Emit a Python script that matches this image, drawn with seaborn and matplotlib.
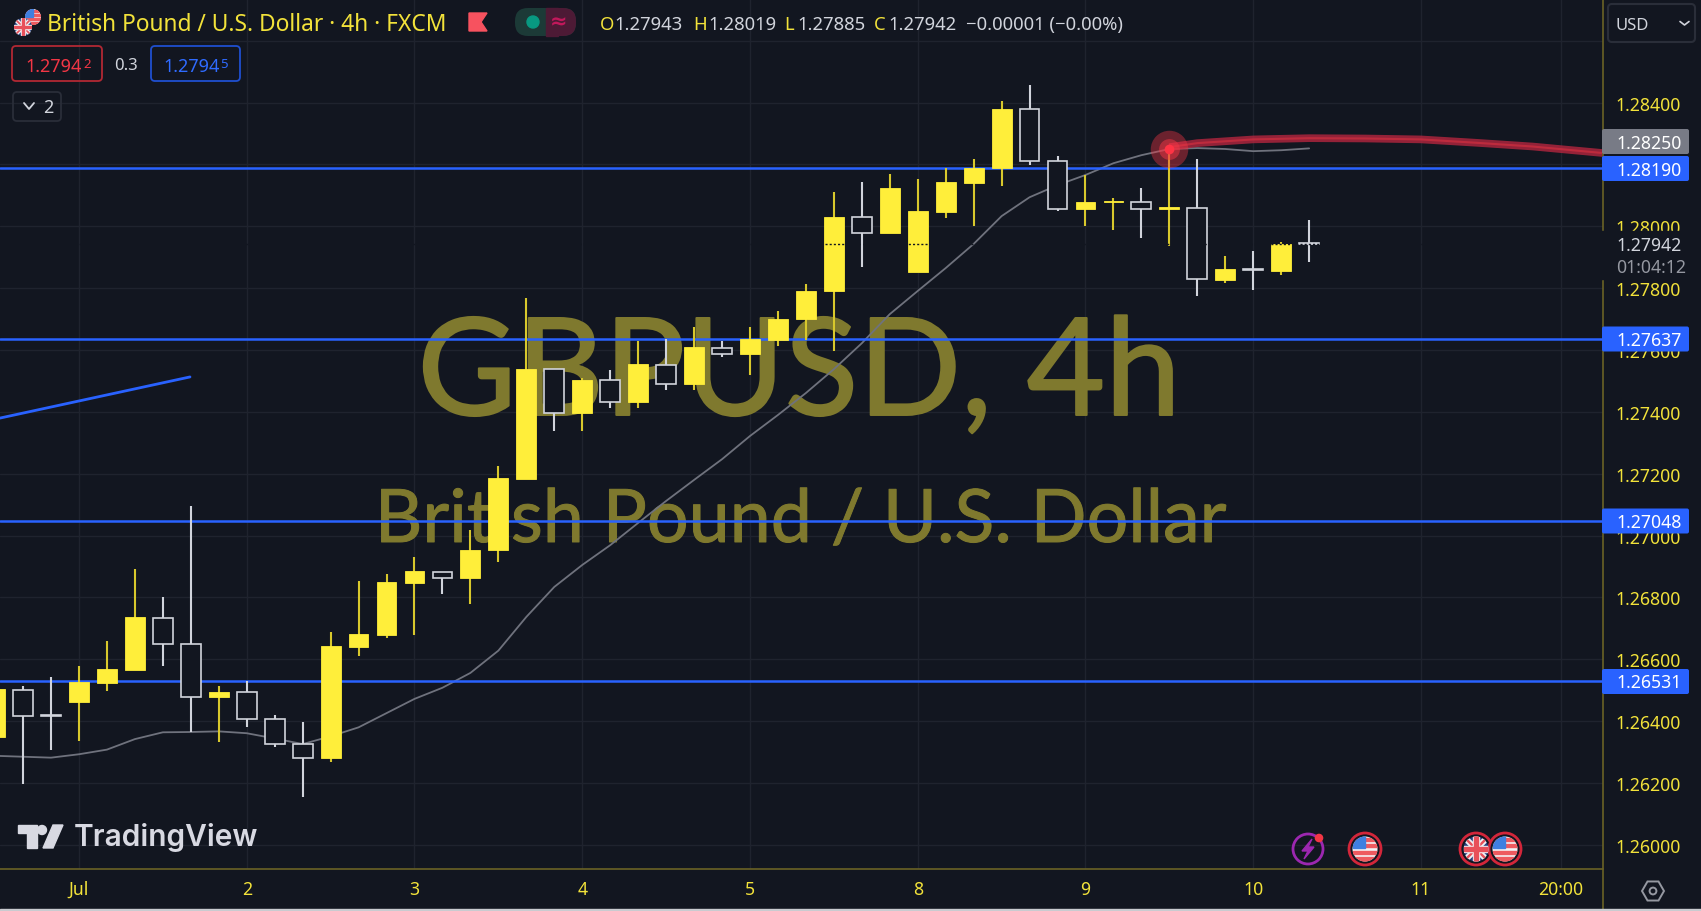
import matplotlib
matplotlib.use("Agg")
import matplotlib.patheffects as pe
import matplotlib.pyplot as plt
from matplotlib.patches import Circle, FancyBboxPatch, Polygon, Rectangle, RegularPolygon
import numpy as np
import pandas as pd
import seaborn as sns

# 4h bars, first one sits three bars before Jul 1 00:00
opens = [1.26348, 1.26502, 1.26417, 1.26461, 1.26523, 1.26566, 1.26734, 1.26649, 1.26477, 1.26493, 1.26408, 1.26326,
         1.26282, 1.26640, 1.26678, 1.26846, 1.26882, 1.26862, 1.26953, 1.27183, 1.27538, 1.27396, 1.27502, 1.27432,
         1.27552, 1.27489, 1.27607, 1.27587, 1.27634, 1.27700, 1.27790, 1.28029, 1.27980, 1.27851, 1.28045, 1.28139,
         1.28187, 1.28379, 1.28212, 1.28055, 1.28079, 1.28078, 1.28057, 1.28059, 1.27828, 1.27859, 1.27855, 1.27943]
closes = [1.26504, 1.26416, 1.26416, 1.26526, 1.26569, 1.26736, 1.26649, 1.26477, 1.26495, 1.26408, 1.26326, 1.26282,
          1.26642, 1.26682, 1.26849, 1.26884, 1.26863, 1.26954, 1.27185, 1.27538, 1.27396, 1.27503, 1.27432, 1.27554,
          1.27490, 1.27609, 1.27586, 1.27635, 1.27701, 1.27792, 1.28029, 1.27980, 1.28123, 1.28048, 1.28142, 1.28188,
          1.28380, 1.28211, 1.28055, 1.28079, 1.28079, 1.28055, 1.28057, 1.27829, 1.27862, 1.27858, 1.27942, 1.27942]
highs = [1.26504, 1.26515, 1.26542, 1.26577, 1.26658, 1.26892, 1.26802, 1.27095, 1.26515, 1.26529, 1.26421, 1.26398,
         1.26689, 1.26853, 1.26877, 1.26932, 1.26882, 1.27017, 1.27224, 1.27768, 1.27538, 1.27510, 1.27535, 1.27628,
         1.27635, 1.27675, 1.27628, 1.27675, 1.27725, 1.27813, 1.28112, 1.28142, 1.28170, 1.28154, 1.28188, 1.28217,
         1.28404, 1.28458, 1.28228, 1.28166, 1.28092, 1.28124, 1.28250, 1.28217, 1.27905, 1.27920, 1.27948, 1.28019]
lows = [1.26326, 1.26197, 1.26308, 1.26335, 1.26498, 1.26566, 1.26577, 1.26364, 1.26332, 1.26382, 1.26315, 1.26154,
        1.26269, 1.26612, 1.26670, 1.26678, 1.26810, 1.26779, 1.26915, 1.27183, 1.27337, 1.27337, 1.27411, 1.27411,
        1.27470, 1.27470, 1.27578, 1.27520, 1.27614, 1.27633, 1.27598, 1.27870, 1.27980, 1.27851, 1.28027, 1.28000,
        1.28131, 1.28198, 1.28048, 1.28000, 1.27987, 1.27961, 1.27937, 1.27775, 1.27816, 1.27793, 1.27843, 1.27885]
ma_values = [1.26288, 1.26285, 1.26282, 1.26293, 1.26308, 1.26342, 1.26364, 1.26365, 1.26367, 1.26361, 1.26344, 1.26326,
             1.26351, 1.26380, 1.26426, 1.26472, 1.26508, 1.26556, 1.26628, 1.26737, 1.26834, 1.26905, 1.26969, 1.27041,
             1.27112, 1.27180, 1.27247, 1.27322, 1.27390, 1.27461, 1.27538, 1.27622, 1.27716, 1.27791, 1.27865, 1.27943,
             1.28033, 1.28094, 1.28133, 1.28166, 1.28204, 1.28230, 1.28250, 1.28253, 1.28250, 1.28243, 1.28246, 1.28252]

level_prices = [1.28190, 1.27637, 1.27048, 1.26531]
level_labels = ["1.28190", "1.27637", "1.27048", "1.26531"]
trend_bars = [-2.825, 3.97]
trend_prices = [1.27380, 1.27513]
red_bars = [39, 40, 42, 44, 46, 48, 50, 52, 54.5]
red_prices = [1.28256, 1.28269, 1.28281, 1.28285, 1.28284, 1.28281, 1.28270, 1.28258, 1.28237]

price_ticks = [1.26, 1.262, 1.264, 1.266, 1.268, 1.27, 1.272, 1.274, 1.276, 1.278, 1.28, 1.282, 1.284]
price_tick_labels = ["1.26000", "1.26200", "1.26400", "1.26600", "1.26800", "1.27000", "1.27200", "1.27400",
                     "1.27600", "1.27800", "1.28000", "", "1.28400"]
time_ticks = [0, 6, 12, 18, 24, 30, 36, 42, 48, 53]
time_labels = ["Jul", "2", "3", "4", "5", "8", "9", "10", "11", "20:00"]

BG = "#121620"
GRID = "#1f232e"
YELLOW = "#ffee3a"
WICK_YELLOW = "#d8c82c"
WHITE = "#d1d4dc"
BLUE = "#2962ff"
OLIVE = "#6a6226"
TEXT_YELLOW = "#f2e23a"
WATERMARK = "#7f792e"
W, H = 1701, 912
AXIS_X, AXIS_Y = 1602.7, 870

sns.set_theme(style="dark", rc={"axes.facecolor": BG, "figure.facecolor": BG})
plt.rcParams["font.family"] = ["Noto Sans", "DejaVu Sans"]

bars = pd.DataFrame({"open": opens, "high": highs, "low": lows, "close": closes, "ma": ma_values})
bars["bar"] = np.arange(len(bars)) - 3
bars["up"] = bars["close"] >= bars["open"]

fig = plt.figure(figsize=(W / 100, H / 100), dpi=100)
ax = fig.add_axes([0, 1 - AXIS_Y / H, AXIS_X / W, AXIS_Y / H])
ui = fig.add_axes([0, 0, 1, 1], zorder=10)
ui.set_xlim(0, W)
ui.set_ylim(H, 0)
ui.axis("off")
ui.patch.set_alpha(0)

ax.set_xlim(-2.825, 54.5)
ax.set_ylim(1.25922, 1.28735)
ax.yaxis.tick_right()
ax.set_yticks(price_ticks, price_tick_labels)
ax.set_xticks(time_ticks, time_labels)
ax.tick_params(axis="y", length=0, pad=9.5, labelcolor=TEXT_YELLOW, labelsize=12.7)
ax.tick_params(axis="x", length=0, pad=8, labelcolor=TEXT_YELLOW, labelsize=12.7)
for label in ax.get_yticklabels() + ax.get_xticklabels():
    label.set_fontweight("semibold")
ax.grid(True, color=GRID, linewidth=1)
ax.axhline(1.286, color=GRID, linewidth=1, zorder=0.8)
ax.set_axisbelow(True)
for side in ax.spines:
    ax.spines[side].set_visible(False)

# watermark goes under everything
ax.text(799, 416, "GBPUSD, 4h", transform=ui.transData, ha="center", va="baseline", fontsize=97.5,
        color=WATERMARK, zorder=1, clip_on=False, family="Lato",
        path_effects=[pe.withStroke(linewidth=1.4, foreground=WATERMARK)])
ax.text(801, 543, "British Pound / U.S. Dollar", transform=ui.transData, ha="center", va="baseline", fontsize=53,
        color=WATERMARK, zorder=1, clip_on=False, family="Lato",
        path_effects=[pe.withStroke(linewidth=0.7, foreground=WATERMARK)])

sns.lineplot(data=bars, x="bar", y="ma", ax=ax, color="#6f727d", linewidth=1.3, zorder=2)
sns.lineplot(x=trend_bars, y=trend_prices, ax=ax, color=BLUE, linewidth=2, zorder=2)
for price in level_prices:
    ax.axhline(price, color=BLUE, linewidth=1.8, zorder=2.5)
ax.set_xlabel("")
ax.set_ylabel("")

for is_up, wick_color, face, edge, edge_width in [(True, WICK_YELLOW, YELLOW, YELLOW, 0.6), (False, WHITE, BG, WHITE, 1.2)]:
    group = bars[bars["up"] == is_up]
    # doji bodies still need some thickness on screen
    body = (group["close"] - group["open"]).abs().clip(lower=0.00004)
    ax.vlines(group["bar"], group["low"], group["high"], color=wick_color, linewidth=1.5, zorder=3)
    ax.bar(group["bar"], body, bottom=group[["open", "close"]].min(axis=1),
           width=0.71, color=face, edgecolor=edge, linewidth=edge_width, zorder=4)

# last price line, only shows on top of the bodies
ax.axhline(closes[-1], color=BG, linewidth=1, linestyle=(0, (1.5, 1.5)), zorder=5)

# red projection and alert dot
ax.plot(red_bars, red_prices, color="#b5263f", linewidth=5.5, alpha=0.8, zorder=6, solid_capstyle="butt")
ax.plot(red_bars, red_prices, color="#f23645", linewidth=1.5, alpha=0.45, zorder=6.1)
ax.plot(39, 1.28250, "o", color="#f23645", alpha=0.4, markersize=27, markeredgewidth=0, zorder=7)
ax.plot(39, 1.28250, "o", color="#f23645", alpha=0.5, markersize=15, markeredgewidth=0, zorder=7)
ax.plot(39, 1.28250, "o", color="#ff3344", markersize=7, markeredgewidth=0, zorder=7)


def text(x, y, s, color=WHITE, size=12, ha="left", **kw):
    return ui.text(x, y, s, color=color, fontsize=size, ha=ha, va="center", **kw)


def round_box(x0, y0, x1, y1, face="none", edge="none", lw=1.3, rad=4, z=1):
    box = FancyBboxPatch((x0 + rad, y0 + rad), x1 - x0 - 2 * rad, y1 - y0 - 2 * rad,
                         boxstyle=f"round,pad={rad},rounding_size={rad}", facecolor=face, edgecolor=edge,
                         linewidth=lw, zorder=z)
    ui.add_patch(box)


def clipped(patch, clip):
    ui.add_patch(patch)
    patch.set_clip_path(clip)


def flag_us(cx, cy, r, z=3):
    base = Circle((cx, cy), r, facecolor="#f4f4f6", edgecolor="none", zorder=z)
    ui.add_patch(base)
    for k in (-0.75, -0.25, 0.3, 0.8):
        clipped(Rectangle((cx - r, cy + k * r - r * 0.13), 2 * r, r * 0.26, color="#ee5a5f", zorder=z + 0.1), base)
    clipped(Rectangle((cx - r, cy - r), r, r * 0.95, color="#3f7fe0", zorder=z + 0.2), base)


def flag_uk(cx, cy, r, z=3):
    base = Circle((cx, cy), r, facecolor="#26407f", edgecolor="none", zorder=z)
    ui.add_patch(base)
    for sign, width, col in [(1, 3.5, "#f1f1f4"), (-1, 3.5, "#f1f1f4"), (1, 1.4, "#e8505a"), (-1, 1.4, "#e8505a")]:
        line, = ui.plot([cx - r, cx + r], [cy - sign * r, cy + sign * r], color=col, lw=width * r / 10, zorder=z + 0.1)
        line.set_clip_path(base)
    clipped(Rectangle((cx - r, cy - r * 0.26), 2 * r, r * 0.52, color="#f1f1f4", zorder=z + 0.2), base)
    clipped(Rectangle((cx - r * 0.26, cy - r), r * 0.52, 2 * r, color="#f1f1f4", zorder=z + 0.2), base)
    clipped(Rectangle((cx - r, cy - r * 0.13), 2 * r, r * 0.26, color="#e8505a", zorder=z + 0.3), base)
    clipped(Rectangle((cx - r * 0.13, cy - r), r * 0.26, 2 * r, color="#e8505a", zorder=z + 0.3), base)


# legend row
flag_us(33, 18, 8, z=3)
flag_uk(23, 28, 9, z=4)
text(47, 25, "British Pound / U.S. Dollar · 4h · FXCM", color=TEXT_YELLOW, size=16.4, fontweight="medium")
ui.add_patch(Polygon([(469, 14), (487, 14), (481, 23), (487, 32), (469, 32)], color="#f7525f", zorder=2))
round_box(515, 9, 576, 37, face="#1c3a37", rad=13)
round_box(546, 9, 576, 37, face="#4d1a35", rad=13, z=1.1)
ui.add_patch(Rectangle((546, 9), 12, 28, color="#4d1a35", zorder=1.2))
ui.add_patch(Circle((533, 23), 6, color="#089981", zorder=2))
text(559, 23, "≈", color="#c2185b", size=15, ha="center", fontweight="bold", zorder=2)
for x, s, col in [(600, "O", TEXT_YELLOW), (614.5, "1.27943", WHITE), (693, "H", TEXT_YELLOW), (708, "1.28019", WHITE),
                  (784.5, "L", TEXT_YELLOW), (797, "1.27885", WHITE), (873.6, "C", TEXT_YELLOW), (888, "1.27942", WHITE),
                  (965.5, "−0.00001 (−0.00%)", WHITE)]:
    text(x, 25, s, color=col, size=13.3)

# bid / ask
round_box(12, 47, 102, 82, edge="#b22833")
text(25, 67, "1.2794", color="#f23645", size=13)
text(83, 64, "2", color="#f23645", size=9.5)
text(126, 66, "0.3", size=12, ha="center")
round_box(151, 47, 240, 82, edge="#1f4fd0")
text(163, 67, "1.2794", color="#2f6bff", size=13)
text(220, 64, "5", color="#2f6bff", size=9.5)
round_box(13, 93, 61, 122, edge="#2a2e39")
ui.plot([24, 29, 34], [104, 110, 104], color=WHITE, lw=1.3, zorder=2)
text(48, 108, "2", size=13, ha="center")

# price scale chrome
ui.plot([AXIS_X, AXIS_X], [0, 910], color=OLIVE, lw=1.2, zorder=1)
ui.plot([0, AXIS_X], [AXIS_Y, AXIS_Y], color=OLIVE, lw=1.2, zorder=1)
ui.add_patch(Rectangle((0, 910), W, 2, color="#c9cbd0", zorder=1))
round_box(1608, 5, 1695, 43, edge="#2a2e39", lw=1.5)
text(1615, 25.5, "USD", size=12)
ui.plot([1680, 1684.5, 1689], [22.5, 26, 22.5], color=WHITE, lw=1.2, zorder=2)

ui.add_patch(Rectangle((1596, 232), 105, 47.5, color=BG, zorder=1.5))
text(1649, 246, "1.27942", size=12.7, ha="center", zorder=2)
text(1651, 268, "01:04:12", color="#9598a1", size=12.7, ha="center", zorder=2)

round_box(1602, 130, 1689, 155, face="#787b86", rad=2, z=2)
text(1649, 144, "1.28250", color="white", size=12.7, ha="center", zorder=3)
box_tops = [157, 327.5, 509.5, 670]
for top, label in zip(box_tops, level_labels):
    round_box(1602, top, 1689, top + 25, face=BLUE, rad=2, z=2)
    text(1649, top + 13.5, label, color="white", size=12.7, ha="center", zorder=3)

ui.add_patch(RegularPolygon((1653, 892), 6, radius=11, orientation=np.pi / 6, facecolor="none", edgecolor="#9598a1", lw=1.4))
ui.add_patch(Circle((1653, 892), 3.4, facecolor="none", edgecolor="#9598a1", lw=1.4))

# event icons along the bottom
ui.add_patch(Circle((1308, 850), 15, facecolor="none", edgecolor="#9c27b0", lw=2))
ui.add_patch(Polygon([(1312, 840), (1302, 852), (1308, 852), (1304, 860), (1314, 848), (1308, 848)], color="#9c27b0"))
ui.add_patch(Circle((1319, 839), 3.6, color="#f23645", zorder=3))
for cx, maker in [(1365, flag_us), (1476, flag_uk), (1505, flag_us)]:
    ui.add_patch(Circle((cx, 850), 16, facecolor=BG, edgecolor="#d3263a", lw=2, zorder=2.5))
    maker(cx, 850, 12.5)

# TradingView mark
LOGO = "#d8d9e2"
ui.add_patch(Polygon([(18, 826), (37, 826), (37, 849), (27, 849), (27, 834), (18, 834)], color=LOGO))
ui.add_patch(Circle((42, 831), 4.5, color=LOGO))
ui.add_patch(Polygon([(53, 826), (63, 826), (53, 849), (43, 849)], color=LOGO))
text(74, 838, "TradingView", color=LOGO, size=21.5, fontweight="semibold", family="Inter")

fig.savefig("out.png", dpi=100, facecolor=BG)
